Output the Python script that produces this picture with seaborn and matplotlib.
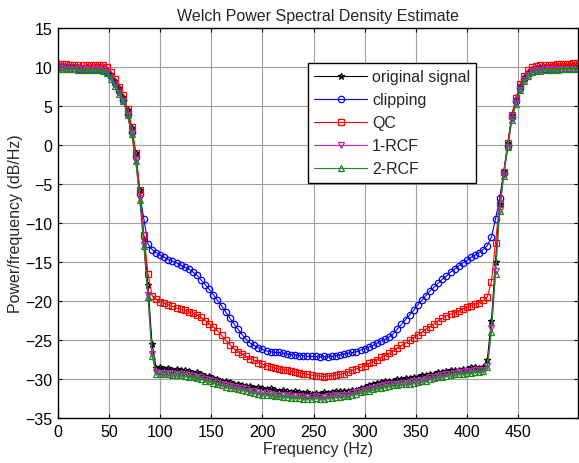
import numpy as np
import pandas as pd
import matplotlib
matplotlib.use("Agg")
import matplotlib.pyplot as plt
import seaborn as sns

freq = [0, 4, 8, 12, 16, 20, 24, 28, 32, 36, 40, 44, 48, 52, 56, 60,
        64, 68, 72, 76, 80, 84, 88, 92, 96, 100, 104, 108, 112, 116, 120, 124,
        128, 132, 136, 140, 144, 148, 152, 156, 160, 164, 168, 172, 176, 180, 184, 188,
        192, 196, 200, 204, 208, 212, 216, 220, 224, 228, 232, 236, 240, 244, 248, 252,
        256, 260, 264, 268, 272, 276, 280, 284, 288, 292, 296, 300, 304, 308, 312, 316,
        320, 324, 328, 332, 336, 340, 344, 348, 352, 356, 360, 364, 368, 372, 376, 380,
        384, 388, 392, 396, 400, 404, 408, 412, 416, 420, 424, 428, 432, 436, 440, 444,
        448, 452, 456, 460, 464, 468, 472, 476, 480, 484, 488, 492, 496, 500, 504, 508]

original_signal = [
    10.1, 10.1, 10.0, 10.0, 10.0, 9.9, 9.9, 10.0, 10.0, 10.0, 10.0, 9.9, 9.6, 9.0, 8.2, 7.3,
    6.2, 4.5, 2.2, -1.0, -5.8, -12.0, -18.0, -25.5, -28.6, -28.5, -28.7, -28.6, -28.8, -28.7, -28.8, -28.9,
    -29.0, -29.2, -29.1, -29.4, -29.6, -29.6, -29.9, -30.0, -30.2, -30.2, -30.4, -30.6, -30.6, -30.8, -30.9, -30.9,
    -31.1, -31.0, -31.2, -31.3, -31.2, -31.4, -31.5, -31.4, -31.6, -31.7, -31.6, -31.7, -31.8, -31.7, -31.9, -31.8,
    -31.9, -31.7, -31.8, -31.7, -31.6, -31.6, -31.5, -31.5, -31.4, -31.4, -31.2, -31.0, -30.8, -30.6, -30.5, -30.4,
    -30.3, -30.2, -30.2, -30.0, -30.0, -29.9, -29.9, -29.7, -29.7, -29.5, -29.5, -29.3, -29.3, -29.1, -29.1, -29.0,
    -28.9, -28.8, -28.8, -28.7, -28.7, -28.5, -28.5, -28.6, -28.4, -27.5, -22.5, -15.0, -7.5, -3.5, 0.2, 3.8,
    5.9, 7.6, 8.7, 9.4, 9.7, 9.9, 10.0, 10.0, 10.0, 10.1, 10.1, 10.1, 10.1, 10.2, 10.2, 10.2]

clipping = [
    10.0, 10.0, 9.9, 9.9, 9.9, 9.8, 9.8, 9.8, 9.8, 9.8, 9.8, 9.7, 9.4, 8.8, 7.9, 6.9,
    5.8, 4.0, 1.7, -1.6, -6.3, -9.5, -12.7, -13.4, -13.8, -14.1, -14.4, -14.7, -14.9, -15.1, -15.4, -15.7,
    -15.9, -16.3, -16.7, -17.3, -17.9, -18.5, -19.2, -19.9, -20.6, -21.4, -22.2, -22.9, -23.6, -24.3, -24.9, -25.4,
    -25.7, -26.0, -26.2, -26.4, -26.5, -26.6, -26.6, -26.7, -26.8, -26.9, -26.9, -27.0, -27.0, -27.1, -27.1, -27.1,
    -27.2, -27.1, -27.2, -27.1, -27.0, -26.9, -26.8, -26.7, -26.6, -26.5, -26.3, -26.1, -25.9, -25.7, -25.4, -25.1,
    -24.9, -24.6, -24.2, -23.6, -23.0, -22.4, -21.8, -21.2, -20.5, -19.9, -19.3, -18.7, -18.2, -17.7, -17.2, -16.8,
    -16.3, -15.9, -15.5, -15.1, -14.8, -14.4, -14.1, -13.8, -13.4, -12.9, -11.8, -9.5, -6.8, -3.6, -0.1, 3.6,
    5.7, 7.3, 8.4, 9.1, 9.4, 9.6, 9.7, 9.7, 9.8, 9.8, 9.8, 9.8, 9.9, 9.9, 9.9, 9.9]

qc = [
    10.4, 10.4, 10.4, 10.3, 10.3, 10.3, 10.2, 10.2, 10.2, 10.3, 10.3, 10.3, 10.0, 9.4, 8.5, 7.5,
    6.4, 4.6, 2.3, -1.0, -5.8, -11.5, -16.5, -19.3, -19.8, -20.1, -20.3, -20.5, -20.7, -20.9, -21.0, -21.2,
    -21.4, -21.6, -21.8, -22.1, -22.5, -22.9, -23.3, -23.8, -24.4, -25.0, -25.6, -26.1, -26.5, -26.8, -27.1, -27.4,
    -27.6, -27.9, -28.1, -28.3, -28.4, -28.6, -28.7, -28.8, -28.9, -29.0, -29.1, -29.2, -29.3, -29.4, -29.5, -29.6,
    -29.6, -29.7, -29.6, -29.6, -29.5, -29.4, -29.3, -29.1, -28.9, -28.7, -28.5, -28.3, -28.0, -27.8, -27.5, -27.2,
    -27.0, -26.7, -26.4, -26.0, -25.7, -25.4, -25.0, -24.7, -24.3, -24.0, -23.6, -23.3, -22.9, -22.5, -22.2, -21.9,
    -21.7, -21.5, -21.3, -21.0, -20.8, -20.6, -20.4, -20.2, -19.9, -19.5, -17.5, -12.5, -7.5, -3.5, 0.2, 3.9,
    6.0, 7.8, 8.9, 9.6, 10.0, 10.1, 10.2, 10.3, 10.3, 10.3, 10.4, 10.4, 10.4, 10.4, 10.5, 10.5]

rcf1 = [
    9.9, 9.9, 9.8, 9.8, 9.8, 9.7, 9.7, 9.7, 9.7, 9.7, 9.7, 9.6, 9.3, 8.6, 7.7, 6.7,
    5.7, 3.9, 1.5, -1.9, -6.8, -12.8, -19.2, -26.8, -29.1, -29.2, -29.2, -29.2, -29.3, -29.3, -29.3, -29.4,
    -29.5, -29.6, -29.7, -29.8, -30.0, -30.1, -30.3, -30.5, -30.6, -30.8, -30.9, -31.0, -31.1, -31.2, -31.3, -31.5,
    -31.6, -31.7, -31.8, -31.8, -31.9, -32.0, -32.0, -32.1, -32.1, -32.2, -32.2, -32.2, -32.3, -32.3, -32.3, -32.2,
    -32.3, -32.3, -32.2, -32.2, -32.1, -32.1, -32.0, -32.0, -31.8, -31.7, -31.5, -31.4, -31.3, -31.1, -31.0, -30.9,
    -30.8, -30.7, -30.6, -30.6, -30.5, -30.5, -30.4, -30.3, -30.2, -30.1, -30.0, -29.8, -29.7, -29.6, -29.5, -29.4,
    -29.3, -29.2, -29.1, -29.1, -29.0, -29.0, -28.9, -28.9, -28.8, -28.3, -23.5, -16.2, -8.3, -3.9, -0.2, 3.3,
    5.4, 7.1, 8.3, 9.0, 9.4, 9.6, 9.6, 9.7, 9.7, 9.7, 9.7, 9.8, 9.8, 9.8, 9.8, 9.8]

rcf2 = [
    9.8, 9.8, 9.7, 9.7, 9.7, 9.6, 9.6, 9.6, 9.6, 9.6, 9.6, 9.5, 9.2, 8.5, 7.6, 6.6,
    5.6, 3.8, 1.4, -2.0, -7.0, -13.0, -19.5, -27.0, -29.3, -29.4, -29.4, -29.4, -29.5, -29.5, -29.5, -29.6,
    -29.7, -29.8, -29.9, -30.0, -30.2, -30.3, -30.5, -30.7, -30.8, -31.0, -31.1, -31.2, -31.3, -31.4, -31.5, -31.7,
    -31.8, -31.9, -32.0, -32.0, -32.1, -32.2, -32.2, -32.3, -32.3, -32.4, -32.4, -32.4, -32.5, -32.5, -32.5, -32.4,
    -32.5, -32.5, -32.4, -32.4, -32.3, -32.3, -32.2, -32.2, -32.0, -31.9, -31.7, -31.6, -31.5, -31.3, -31.2, -31.1,
    -31.0, -30.9, -30.8, -30.8, -30.7, -30.7, -30.6, -30.5, -30.4, -30.3, -30.2, -30.0, -29.9, -29.8, -29.7, -29.6,
    -29.5, -29.4, -29.3, -29.3, -29.2, -29.2, -29.1, -29.1, -29.0, -28.5, -24.0, -16.5, -8.5, -4.0, -0.3, 3.2,
    5.3, 7.0, 8.2, 8.9, 9.3, 9.5, 9.5, 9.6, 9.6, 9.6, 9.6, 9.7, 9.7, 9.7, 9.7, 9.7]

series_names = ["original signal", "clipping", "QC", "1-RCF", "2-RCF"]
series_values = [original_signal, clipping, qc, rcf1, rcf2]
x_ticks = [0, 50, 100, 150, 200, 250, 300, 350, 400, 450]
y_ticks = [-35, -30, -25, -20, -15, -10, -5, 0, 5, 10, 15]

colors = ["#000000", "#0000ff", "#ff0000", "#c020c0", "#1a8a1a"]
markers = ["*", "o", "s", "v", "^"]
msizes = [5.0, 4.6, 4.6, 4.0, 4.2]

sns.set_style("ticks")
plt.rcParams["font.family"] = ["Liberation Sans", "DejaVu Sans"]
plt.rcParams["font.size"] = 11.5

fig = plt.figure(figsize=(5.79, 4.64), dpi=100)
ax = fig.add_axes([58 / 579, 45 / 464, 520 / 579, 390 / 464])

for name, vals, c, m, ms in zip(series_names, series_values, colors, markers, msizes):
    df = pd.DataFrame({"f": freq, "p": vals})
    sns.lineplot(data=df, x="f", y="p", ax=ax, color=c, marker=m, markersize=ms,
                 markerfacecolor="none", markeredgecolor=c, markeredgewidth=0.9,
                 linewidth=0.8, label=name, estimator=None, sort=False)

ax.set_xlim(0, 508.7)
ax.set_ylim(-35, 15)
ax.set_xticks(x_ticks)
ax.set_yticks(y_ticks)
ax.grid(True, color="#a0a0a0", linewidth=0.8)
ax.set_axisbelow(True)
ax.tick_params(direction="in", length=3, top=True, right=True, labelsize=11.5, pad=4, colors="black")
for s in ax.spines.values():
    s.set_visible(True)
    s.set_color("black")
    s.set_linewidth(1.0)

ax.set_xlabel("Frequency (Hz)", fontsize=11.5, labelpad=2)
ax.set_ylabel("Power/frequency (dB/Hz)", fontsize=11.5, labelpad=2)
ax.set_title("Welch Power Spectral Density Estimate", fontsize=11.5, pad=6)

leg = ax.legend(loc="upper left", bbox_to_anchor=((308 - 58) / 520, (419 - 64) / 390),
                fancybox=False, framealpha=1, edgecolor="black", fontsize=11.5,
                handlelength=3.3, handletextpad=0.3, labelspacing=0.5,
                borderpad=0.4, borderaxespad=0)
leg.get_frame().set_linewidth(1.0)

fig.savefig("out.png", dpi=100)
